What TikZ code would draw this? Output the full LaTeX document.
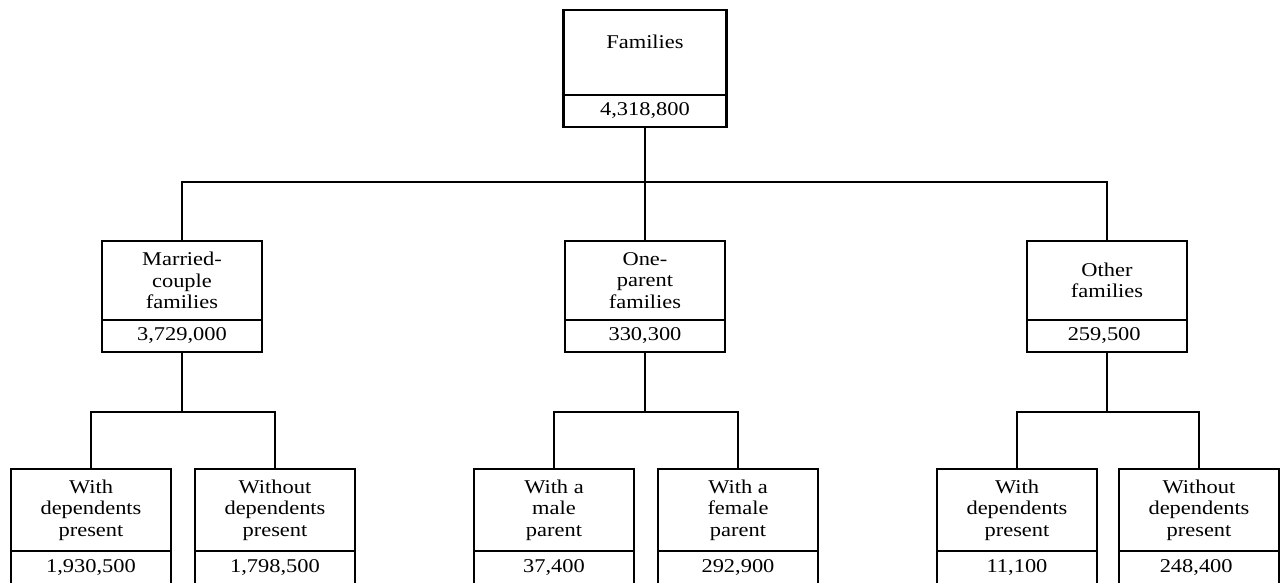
\documentclass[tikz,border=0pt]{standalone}
\usepackage{fontspec}
\setmainfont{Liberation Serif}[FakeStretch=1.15]
\usepackage{tikz}

\tikzset{
  labelbox/.style={draw, line width=2.2pt, align=center, inner sep=0pt, outer sep=0pt, anchor=north,
    minimum width=160pt, minimum height=80pt, font=\fontsize{19.5}{21.5}\selectfont},
  numbox/.style={labelbox, minimum height=32pt},
  link/.style={line width=2.2pt}
}

\begin{document}
\begin{tikzpicture}[x=1pt,y=-1pt]
        \useasboundingbox (0,0) rectangle (1281,582);
        % top box
        \node[labelbox, minimum width=163pt, minimum height=85pt, text depth=22pt] (fam) at (645,10) {Families};
        \node[numbox, minimum width=163pt] (famN) at (fam.south) {4,318,800};
        % middle row
        \foreach \x/\name/\text/\num in {
            182/mar/{Married-\\couple\\families}/{3,729,000},
            645/one/{One-\\parent\\families}/{330,300},
            1107/oth/{Other\\families}/{259,500}
        } {
            \node[labelbox, minimum height=79pt] (\name) at (\x,241) {\text};
            \node[numbox] (\name N) at (\name.south) {\num};
        }
        % bottom row
        \foreach \x/\name/\text/\num in {
            91/marA/{With\\dependents\\present}/{1,930,500},
            275/marB/{Without\\dependents\\present}/{1,798,500},
            554/oneA/{With a\\male\\parent}/{37,400},
            738/oneB/{With a\\female\\parent}/{292,900},
            1017/othA/{With\\dependents\\present}/{11,100},
            1199/othB/{Without\\dependents\\present}/{248,400}
        } {
            \node[labelbox, minimum height=82pt] (\name) at (\x,469) {\text};
            \node[numbox, minimum height=34pt] (\name N) at (\name.south) {\num};
        }
        % connectors
        \draw[link] (famN.south) -- +(0,55) coordinate (famJ);
        \draw[link] (famJ) -- (one.north);
        \draw[link] (mar.north) |- (famJ) -| (oth.north);
        \foreach \p in {mar,one,oth} {
            \draw[link] (\p N.south) -- +(0,60) coordinate (\p J);
            \draw[link] (\p A.north) |- (\p J) -| (\p B.north);
        }
    \end{tikzpicture}
\end{document}
